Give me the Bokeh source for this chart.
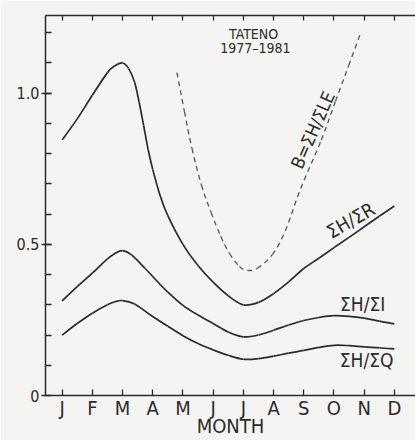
from bokeh.plotting import figure
from bokeh.models import Range1d, LinearAxis, FixedTicker, Label
from bokeh.embed import file_html
from bokeh.resources import INLINE

# Month index: 0 = January ... 11 = December
MONTH_LABELS = ["J", "F", "M", "A", "M", "J", "J", "A", "S", "O", "N", "D"]

# Sensible heat / net radiation
MONTH_R = [0, 0.5, 1, 1.5, 1.75, 2, 2.2, 2.4, 2.55, 2.7, 2.85, 3, 3.25, 3.5, 4,
           4.5, 5, 5.5, 6, 6.5, 7, 7.5, 8, 8.5, 9, 9.5, 10, 10.5, 11]
RATIO_R = [0.845, 0.915, 0.993, 1.068, 1.091, 1.10, 1.082, 1.036, 0.97, 0.893,
           0.813, 0.748, 0.66, 0.595, 0.50, 0.43, 0.375, 0.33, 0.30, 0.308,
           0.337, 0.376, 0.42, 0.454, 0.489, 0.523, 0.558, 0.593, 0.627]

# Sensible heat / global radiation
MONTH_I = [0, 0.5, 1, 1.5, 1.75, 2, 2.3, 2.75, 3.25, 3.5, 4, 4.5, 5, 5.5, 6,
           6.5, 7, 7.5, 8, 8.5, 9, 9.5, 10, 10.5, 11]
RATIO_I = [0.313, 0.36, 0.405, 0.452, 0.47, 0.479, 0.465, 0.42, 0.367, 0.342,
           0.298, 0.266, 0.238, 0.21, 0.194, 0.2, 0.216, 0.233, 0.248, 0.258,
           0.264, 0.262, 0.256, 0.246, 0.237]

# Sensible heat / extraterrestrial radiation
MONTH_Q = [0, 0.5, 1, 1.5, 1.75, 2, 2.4, 2.9, 3.5, 4, 4.5, 5, 5.5, 6, 6.5, 7,
           7.5, 8, 8.5, 9, 9.5, 10, 10.5, 11]
RATIO_Q = [0.20, 0.238, 0.272, 0.30, 0.31, 0.314, 0.303, 0.268, 0.229, 0.198,
           0.172, 0.151, 0.133, 0.12, 0.122, 0.13, 0.14, 0.149, 0.159, 0.166,
           0.165, 0.161, 0.158, 0.154]

# Bowen ratio B = sum H / sum LE
MONTH_B = [3.8, 4.05, 4.3, 4.61, 4.93, 5.25, 5.54, 5.87, 6.13, 6.46, 6.96,
           7.39, 7.9, 8.58, 9.05, 9.49, 9.9]
RATIO_B = [1.068, 0.939, 0.817, 0.697, 0.606, 0.527, 0.47, 0.427, 0.414, 0.421,
           0.466, 0.545, 0.685, 0.845, 0.973, 1.092, 1.203]

Y_MAJOR = [0, 0.5, 1.0]
Y_MAJOR_LABELS = ["0", "0.5", "1.0"]
Y_MINOR = [0.1, 0.2, 0.3, 0.4, 0.5, 0.6, 0.7, 0.8, 0.9, 1.0, 1.1, 1.2]

INK = "#2b2b2b"
BG = "#f4f4f2"
FONT = "'DejaVu Sans Condensed', 'Liberation Sans Narrow', 'DejaVu Sans', sans-serif"

p = figure(width=415, height=440,
           x_range=Range1d(-0.55, 11.70), y_range=Range1d(0, 1.257),
           output_backend="svg", toolbar_location=None,
           x_axis_location=None, y_axis_location=None,
           min_border_left=45, min_border_right=0,
           min_border_top=15, min_border_bottom=40,
           background_fill_color=BG, border_fill_color=BG,
           outline_line_color=None)
p.grid.visible = False

months = list(range(len(MONTH_LABELS)))

left = LinearAxis(
    ticker=FixedTicker(ticks=Y_MAJOR, minor_ticks=Y_MINOR),
    major_label_overrides=dict(zip(Y_MAJOR, Y_MAJOR_LABELS)),
    axis_line_color=INK, axis_line_width=1.5,
    major_tick_line_color=INK, major_tick_line_width=1.3,
    minor_tick_line_color=INK, minor_tick_line_width=1.3,
    major_tick_in=6, major_tick_out=4, minor_tick_in=6, minor_tick_out=0,
    major_label_standoff=2,
    major_label_text_font=FONT, major_label_text_font_size="16px",
    major_label_text_color=INK)

bottom = LinearAxis(
    ticker=FixedTicker(ticks=months),
    major_label_overrides=dict(zip(months, MONTH_LABELS)),
    axis_label="MONTH",
    axis_line_color=INK, axis_line_width=1.5,
    major_tick_line_color=INK, major_tick_line_width=1.3,
    major_tick_in=6, major_tick_out=0,
    major_label_standoff=0,
    major_label_text_font=FONT, major_label_text_font_size="20px",
    major_label_text_color=INK,
    axis_label_standoff=-9,
    axis_label_text_font=FONT, axis_label_text_font_size="20px",
    axis_label_text_font_style="normal", axis_label_text_color=INK)

top = LinearAxis(
    ticker=FixedTicker(ticks=months),
    major_label_overrides={m: "" for m in months},
    axis_line_color=INK, axis_line_width=1.5,
    major_tick_line_color=INK, major_tick_line_width=1.3,
    major_tick_in=5, major_tick_out=0,
    major_label_standoff=0, major_label_text_font_size="1px",
    major_label_text_color=None)

p.add_layout(left, "left")
p.add_layout(bottom, "below")
p.add_layout(top, "above")


def smooth_curve(xs, ys, **style):
    """Draw a smooth curve through the points as Catmull-Rom Bezier pieces."""
    n = len(xs)
    x0, y0, x1, y1, cx0, cy0, cx1, cy1 = ([] for _ in range(8))
    for i in range(n - 1):
        a = max(i - 1, 0)
        d = min(i + 2, n - 1)
        x0.append(xs[i]); y0.append(ys[i])
        x1.append(xs[i + 1]); y1.append(ys[i + 1])
        cx0.append(xs[i] + (xs[i + 1] - xs[a]) / 6)
        cy0.append(ys[i] + (ys[i + 1] - ys[a]) / 6)
        cx1.append(xs[i + 1] - (xs[d] - xs[i]) / 6)
        cy1.append(ys[i + 1] - (ys[d] - ys[i]) / 6)
    p.bezier(x0=x0, y0=y0, x1=x1, y1=y1, cx0=cx0, cy0=cy0, cx1=cx1, cy1=cy1,
             **style)


smooth_curve(MONTH_R, RATIO_R, line_color=INK, line_width=1.7)
smooth_curve(MONTH_I, RATIO_I, line_color=INK, line_width=1.7)
smooth_curve(MONTH_Q, RATIO_Q, line_color=INK, line_width=1.7)
smooth_curve(MONTH_B, RATIO_B, line_color="#555555", line_width=1.3,
             line_dash="5 4")


def note(x, y, text, size, angle=0):
    p.add_layout(Label(x=x, y=y, text=text, angle=angle, angle_units="deg",
                       text_align="center", text_baseline="middle",
                       text_font=FONT, text_font_size=size, text_color=INK))


note(6.34, 1.197, "TATENO", "14px")
note(6.40, 1.148, "1977–1981", "14px")
note(8.3, 0.878, "B=ΣH/ΣLE", "18px", angle=66)
note(9.55, 0.58, "ΣH/ΣR", "19px", angle=30)
note(9.95, 0.303, "ΣH/ΣI", "19px")
note(10.08, 0.118, "ΣH/ΣQ", "19px")

open("out.html", "w").write(file_html(p, INLINE))
